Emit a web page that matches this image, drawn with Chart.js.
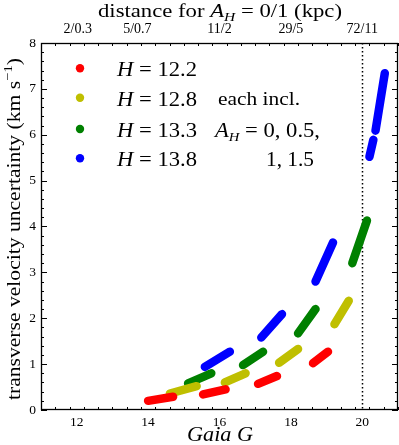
<!DOCTYPE html>
<html><head><meta charset="utf-8">
<script src="https://cdn.jsdelivr.net/npm/chart.js@4/dist/chart.umd.min.js"></script>
<style>html,body{margin:0;padding:0;background:#fff}</style>
</head><body>
<canvas id="c" width="399" height="445" style="width:399px;height:445px;display:block"></canvas>
<script>
// ---- data ----
const seriesH = ['12.2', '12.8', '13.3', '13.8'];
const seriesColors = ['#ff0000', '#bfbf00', '#008000', '#0000ff'];
// each segment: [G start, v start, G end, v end]  (one per A_H = 0, 0.5, 1, 1.5)
const segH122 = [[14.00,0.20,14.70,0.29],[15.54,0.34,16.17,0.45],[17.08,0.57,17.61,0.74],[18.62,1.02,19.04,1.27]];
const segH128 = [[14.61,0.36,15.36,0.52],[16.15,0.60,16.73,0.80],[17.67,1.03,18.20,1.33],[19.22,1.87,19.62,2.38]];
const segH133 = [[15.12,0.58,15.77,0.80],[16.66,0.98,17.22,1.27],[18.20,1.67,18.69,2.20],[19.72,3.20,20.13,4.13]];
const segH138 = [[15.59,0.94,16.29,1.27],[17.17,1.58,17.75,2.09],[18.69,2.80,19.18,3.65],[20.20,5.52,20.31,5.89],[20.37,6.09,20.63,7.34]];
const xTickValues = [12, 14, 16, 18, 20];
const yTickValues = [0, 1, 2, 3, 4, 5, 6, 7, 8];
const topTickG = [12.03, 13.7, 16, 18, 20];
const topTickLabels = ['2/0.3', '5/0.7', '11/2', '29/5', '72/11'];
const limitG = 20;

const allSegs = [segH122, segH128, segH133, segH138];
function toPoints(segs) {
  const pts = [];
  segs.forEach(s => { pts.push({x: s[0], y: s[1]}, {x: s[2], y: s[3]}, {x: s[2], y: null}); });
  return pts;
}
const SERIF = '"Liberation Serif", "DejaVu Serif", serif';

// parts: [text, italic, size, dy]; align: 'left' | 'center' | 'right'; targetW: stretch to width
function rich(ctx, parts, x, y, align, targetW) {
  let w = 0;
  parts.forEach(p => { ctx.font = (p[1] ? 'italic ' : '') + p[2] + 'px ' + SERIF; w += ctx.measureText(p[0]).width; });
  const k = targetW ? targetW / w : 1;
  const W = w * k;
  const x0 = align === 'center' ? x - W / 2 : (align === 'right' ? x - W : x);
  ctx.save();
  ctx.translate(x0, y);
  ctx.scale(k, 1);
  let cx = 0;
  parts.forEach(p => {
    ctx.font = (p[1] ? 'italic ' : '') + p[2] + 'px ' + SERIF;
    ctx.fillText(p[0], cx, p[3] || 0);
    cx += ctx.measureText(p[0]).width;
  });
  ctx.restore();
}

const deco = {
  id: 'deco',
  beforeDatasetsDraw(chart) {
    const ctx = chart.ctx, x = chart.scales.x, a = chart.chartArea;
    ctx.save();
    ctx.strokeStyle = '#000'; ctx.lineWidth = 1.5; ctx.setLineDash([1.5, 2.5]);
    const px = Math.round(x.getPixelForValue(limitG)) + 0.5;
    ctx.beginPath(); ctx.moveTo(px, a.top); ctx.lineTo(px, a.bottom); ctx.stroke();
    ctx.restore();
  },
  afterDraw(chart) {
    const ctx = chart.ctx, x = chart.scales.x, y = chart.scales.y, a = chart.chartArea;
    ctx.save();
    ctx.strokeStyle = '#000'; ctx.lineWidth = 1;
    ctx.beginPath();
    for (let v = x.min; v <= x.max + 1e-9; v += 0.4) {
      const px = Math.round(x.getPixelForValue(v)) + 0.5;
      const major = Math.abs(v / 2 - Math.round(v / 2)) < 1e-6;
      const L = major ? 6 : 3;
      ctx.moveTo(px, a.bottom); ctx.lineTo(px, a.bottom - L);
      ctx.moveTo(px, a.top); ctx.lineTo(px, a.top + L);
    }
    for (let v = y.min; v <= y.max + 1e-9; v += 0.2) {
      const py = Math.round(y.getPixelForValue(v)) + 0.5;
      const major = Math.abs(v - Math.round(v)) < 1e-6;
      const L = major ? 6 : 3;
      ctx.moveTo(a.left, py); ctx.lineTo(a.left + L, py);
      ctx.moveTo(a.right, py); ctx.lineTo(a.right - L, py);
    }
    ctx.stroke();
    ctx.lineWidth = 1.3;
    ctx.strokeRect(a.left + 0.5, a.top + 0.5, a.right - a.left - 1, a.bottom - a.top - 1);

    ctx.fillStyle = '#000';
    ctx.textBaseline = 'alphabetic';
    // title
    rich(ctx, [['distance for ', false, 19], ['A', true, 19], ['H', true, 13, 4], [' = 0/1 (kpc)', false, 19]], 220, 17, 'center', 244);
    // x title
    rich(ctx, [['Gaia G', true, 21]], 220, 441, 'center', 66);
    // y title
    ctx.save();
    ctx.translate(20, 229); ctx.rotate(-Math.PI / 2);
    rich(ctx, [['transverse velocity uncertainty (km s', false, 19], ['\u22121', false, 13, -8], [')', false, 19]], 0, 0, 'center', 342);
    ctx.restore();
    // legend
    const dotY = [68.3, 97.7, 129, 158.3];
    seriesH.forEach((h, i) => {
      ctx.fillStyle = seriesColors[i];
      ctx.beginPath(); ctx.arc(80, dotY[i], 4.2, 0, Math.PI * 2); ctx.fill();
      ctx.fillStyle = '#000';
      rich(ctx, [['H', true, 20], [' = ' + h, false, 20]], 117, dotY[i] + 8, 'left', 80);
    });
    rich(ctx, [['each incl.', false, 18]], 218, dotY[1] + 7, 'left', 82);
    rich(ctx, [['A', true, 20], ['H', true, 13, 4], [' = 0, 0.5,', false, 20]], 215, dotY[2] + 8, 'left', 105);
    rich(ctx, [['1, 1.5', false, 20]], 314, dotY[3] + 8, 'right', 48);
    ctx.restore();
  }
};

new Chart(document.getElementById('c'), {
  type: 'line',
  data: {
    datasets: allSegs.map((segs, i) => ({
      label: 'H = ' + seriesH[i],
      data: toPoints(segs),
      borderColor: seriesColors[i],
      backgroundColor: seriesColors[i],
      borderWidth: 8.5,
      borderCapStyle: 'round',
      borderJoinStyle: 'round',
      pointRadius: 0,
      spanGaps: false,
      tension: 0,
      fill: false
    }))
  },
  options: {
    responsive: false,
    animation: false,
    devicePixelRatio: 1,
    layout: { padding: { left: 0, right: 1, top: 0, bottom: 0 } },
    plugins: { legend: { display: false }, tooltip: { enabled: false } },
    scales: {
      x: {
        type: 'linear', position: 'bottom', min: 11, max: 21,
        afterBuildTicks: s => { s.ticks = xTickValues.map(v => ({ value: v })); },
        afterFit: s => { s.height = 35; },
        grid: { display: false, drawTicks: false },
        border: { display: false },
        ticks: { padding: 4, color: '#000', font: { family: SERIF, size: 13.5 }, maxRotation: 0 }
      },
      xTop: {
        type: 'linear', position: 'top', min: 11, max: 21,
        afterBuildTicks: s => { s.ticks = topTickG.map(v => ({ value: v })); },
        afterFit: s => { s.height = 43; },
        grid: { display: false, drawTicks: false },
        border: { display: false },
        ticks: { padding: 5, color: '#000', font: { family: SERIF, size: 14 }, maxRotation: 0,
          callback: (v, i) => topTickLabels[i] }
      },
      y: {
        type: 'linear', position: 'left', min: 0, max: 8,
        afterBuildTicks: s => { s.ticks = yTickValues.map(v => ({ value: v })); },
        afterFit: s => { s.width = 41; },
        grid: { display: false, drawTicks: false },
        border: { display: false },
        ticks: { padding: 5, color: '#000', font: { family: SERIF, size: 13.5 } }
      }
    }
  },
  plugins: [deco]
});
</script>
</body></html>
